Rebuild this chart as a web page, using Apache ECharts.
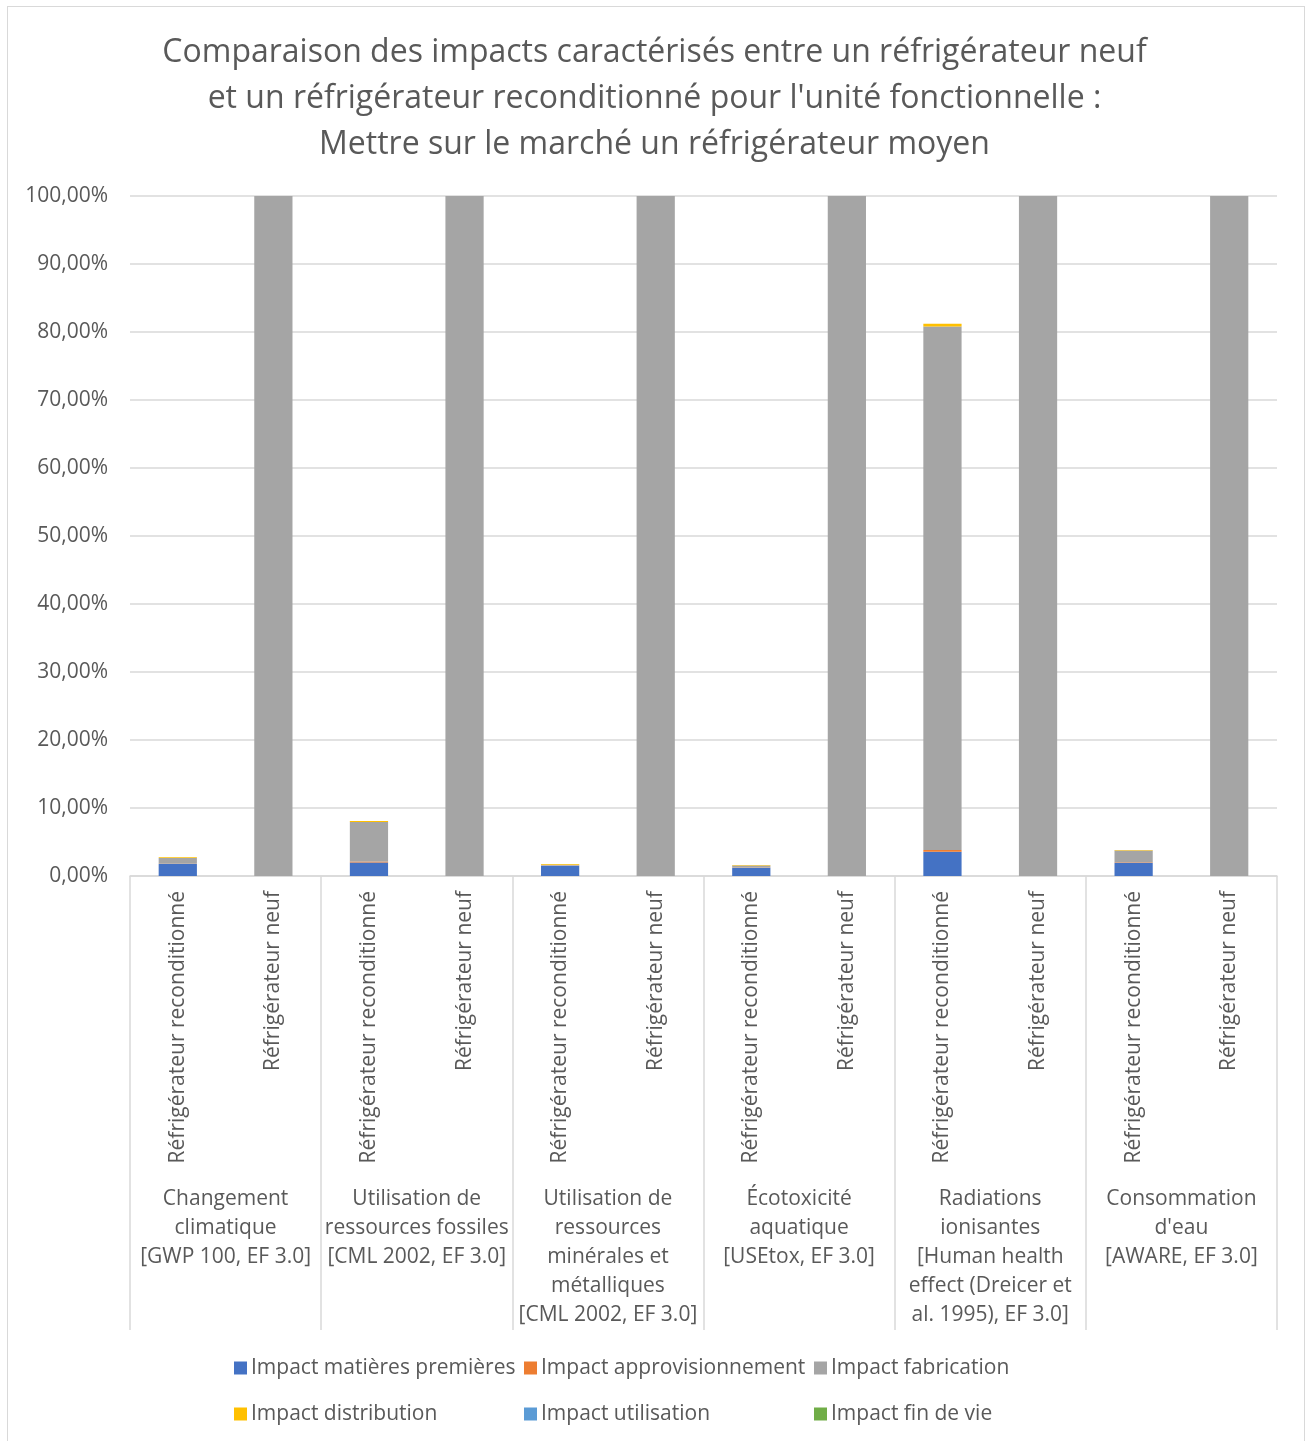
<!DOCTYPE html>
<html>
<head>
<meta charset="utf-8">
<script src="https://cdn.jsdelivr.net/npm/echarts@6/dist/echarts.min.js"></script>
<style>
html,body{margin:0;padding:0;background:#fff;}
#frame{position:absolute;left:7px;top:6px;width:1298px;height:1440px;border:1.5px solid #d9d9d9;border-bottom:none;box-sizing:border-box;}
#chart{position:absolute;left:0;top:0;width:1309px;height:1441px;}
</style>
</head>
<body>
<div id="frame"></div>
<div id="chart"></div>
<script>
const titleText = "Comparaison des impacts caractérisés entre un réfrigérateur neuf\net un réfrigérateur reconditionné pour l'unité fonctionnelle :\nMettre sur le marché un réfrigérateur moyen";
const groups = [
  "Changement\nclimatique\n[GWP 100, EF 3.0]",
  "Utilisation de\nressources fossiles\n[CML 2002, EF 3.0]",
  "Utilisation de\nressources\nminérales et\nmétalliques\n[CML 2002, EF 3.0]",
  "Écotoxicité\naquatique\n[USEtox, EF 3.0]",
  "Radiations\nionisantes\n[Human health\neffect (Dreicer et\nal. 1995), EF 3.0]",
  "Consommation\nd'eau\n[AWARE, EF 3.0]"
];
const products = ["Réfrigérateur reconditionné", "Réfrigérateur neuf"];
const categories = [];
groups.forEach(g => products.forEach(p => categories.push(p)));

const seriesNames = ["Impact matières premières","Impact approvisionnement","Impact fabrication","Impact distribution","Impact utilisation","Impact fin de vie"];
// values in %, order: recond, neuf for each group
const matieres          = [1.76, 0, 2.00, 0, 1.50, 0, 1.22, 0, 3.57, 0, 1.96, 0];
const approvisionnement = [0.05, 0, 0.15, 0, 0.05, 0, 0.03, 0, 0.25, 0, 0.05, 0];
const fabrication       = [0.85, 100, 5.80, 100, 0.12, 100, 0.30, 100, 77.00, 100, 1.75, 100];
const distribution      = [0.10, 0, 0.15, 0, 0.10, 0, 0.05, 0, 0.40, 0, 0.08, 0];
const utilisation       = [0, 0, 0, 0, 0, 0, 0, 0, 0, 0, 0, 0];
const finDeVie          = [0, 0, 0, 0, 0, 0, 0, 0, 0, 0, 0, 0];
const yTicks = {min: 0, max: 100, interval: 10};
const colors = ["#4472C4","#ED7D31","#A5A5A5","#FFC000","#5B9BD5","#70AD47"];
const allData = [matieres, approvisionnement, fabrication, distribution, utilisation, finDeVie];

const font = "'Open Sans', 'Noto Sans', sans-serif";
const txt = "#595959";
const grid = "#d9d9d9";

const chart = echarts.init(document.getElementById('chart'), null, {renderer:'canvas'});

function legendCol(left, names){
  return {
    orient: 'vertical', left: left, top: 1352, itemGap: 24,
    itemWidth: 13, itemHeight: 13, icon: 'rect',
    textStyle: {color: txt, fontSize: 21, fontFamily: font, lineHeight: 22, padding:[0,0,0,-1]},
    data: names
  };
}

chart.setOption({
  animation: false,
  color: colors,
  title: {
    text: titleText, left: 'center', top: 25,
    textStyle: {color: txt, fontSize: 32, fontWeight: 'normal', fontFamily: font, lineHeight: 46}
  },
  legend: [
    legendCol(229, [seriesNames[0], seriesNames[3]]),
    legendCol(519, [seriesNames[1], seriesNames[4]]),
    legendCol(809, [seriesNames[2], seriesNames[5]])
  ],
  grid: {left: 130, right: 32, top: 196, bottom: 565, containLabel: false},
  xAxis: [
    {
      type: 'category', data: categories, position: 'bottom',
      axisLine: {show: true, lineStyle: {color: grid, width: 1.5}},
      axisTick: {show: false},
      axisLabel: {interval: 0, rotate: 90, margin: 15, color: txt, fontSize: 21, fontFamily: font}
    },
    {
      type: 'category', data: groups, position: 'bottom',
      axisLine: {show: false},
      axisTick: {show: true, interval: 0, length: 454, lineStyle: {color: grid, width: 1.5}},
      axisLabel: {interval: 0, margin: 309, color: txt, fontSize: 21, fontFamily: font, lineHeight: 29, verticalAlign: 'top'}
    }
  ],
  yAxis: {
    type: 'value', min: yTicks.min, max: yTicks.max, interval: yTicks.interval,
    axisLine: {show: false}, axisTick: {show: false},
    splitLine: {lineStyle: {color: grid, width: 1.5}},
    axisLabel: {margin: 22, color: txt, fontSize: 21, fontFamily: font,
      formatter: v => v.toFixed(2).replace('.', ',') + '%'}
  },
  series: seriesNames.map((n, i) => ({
    name: n, type: 'bar', stack: 'total', xAxisIndex: 0,
    barWidth: '40%', data: allData[i],
    itemStyle: {color: colors[i]}
  }))
});
</script>
</body>
</html>
